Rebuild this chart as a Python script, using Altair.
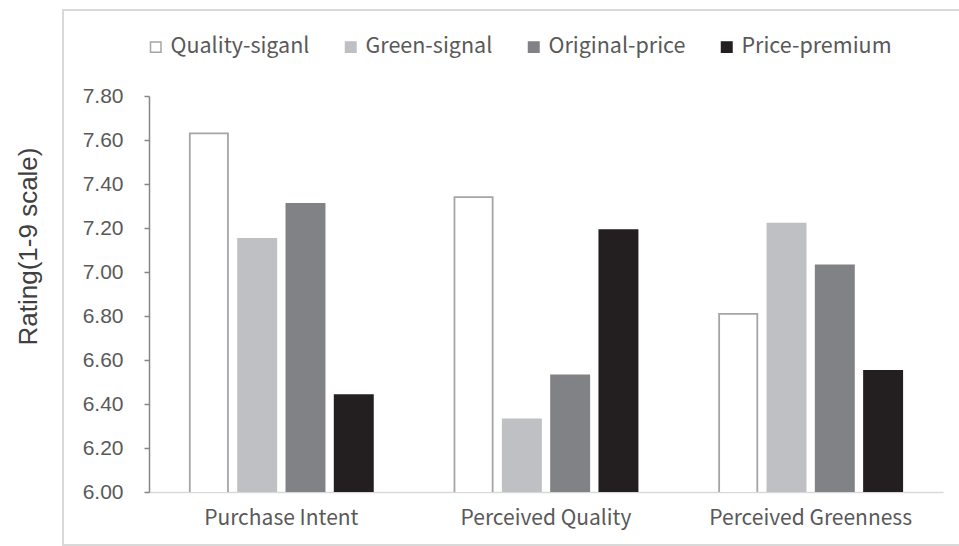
import altair as alt
import pandas as pd

categories = ["Purchase Intent", "Perceived Quality", "Perceived Greenness"]
series = ["Quality-siganl", "Green-signal", "Original-price", "Price-premium"]
quality_signal = [7.63, 7.34, 6.81]
green_signal = [7.15, 6.33, 7.22]
original_price = [7.31, 6.53, 7.03]
price_premium = [6.44, 7.19, 6.55]
y_ticks = [6.0, 6.2, 6.4, 6.6, 6.8, 7.0, 7.2, 7.4, 7.6, 7.8]

fills = ["#ffffff", "#bfc0c3", "#818285", "#231f20"]
strokes = ["#a5a5a7", "#bfc0c3", "#818285", "#231f20"]

rows = []
for s, vals in zip(series, [quality_signal, green_signal, original_price, price_premium]):
    for c, v in zip(categories, vals):
        rows.append({"category": c, "series": s, "value": v})
df = pd.DataFrame(rows)

label_font = "Noto Sans CJK SC"
num_font = "Liberation Sans"
text_col = "#595959"

legend_kw = dict(orient="none", legendX=-4, legendY=-60,
                 direction="horizontal", symbolType="square",
                 symbolSize=110, symbolStrokeWidth=1.5,
                 labelFont=label_font, labelFontSize=21.5,
                 labelColor=text_col, labelOffset=4,
                 columnPadding=30, labelLimit=0)

bars = alt.Chart(df).mark_bar(strokeWidth=1.8, clip=True).encode(
    x=alt.X("category:N", sort=categories, title=None,
            scale=alt.Scale(paddingInner=0, paddingOuter=0),
            axis=alt.Axis(labelAngle=0, ticks=False, domainColor="#d9d9d9",
                          domainWidth=1.5, labelFont=label_font, labelFontSize=21,
                          labelColor=text_col, labelPadding=15, labelLimit=0)),
    xOffset=alt.XOffset("series:N", sort=series,
                        scale=alt.Scale(paddingInner=0.21, paddingOuter=0.845)),
    y=alt.Y("value:Q", title="Rating(1-9 scale)",
            scale=alt.Scale(domain=[6.0, 7.8], nice=False, zero=False),
            axis=alt.Axis(values=y_ticks, format=".2f", grid=False,
                          domainColor="#868686", domainWidth=1.5,
                          tickColor="#868686", tickWidth=1.5, tickSize=5,
                          labelFont=num_font, labelFontSize=21, labelColor=text_col,
                          labelPadding=21, titleFont=num_font, titleFontSize=26,
                          titleFontWeight="normal", titleColor="#404040",
                          titleX=-108, titleY=150, titleAngle=270,
                          titleBaseline="bottom", titleAlign="center")),
    fill=alt.Fill("series:N", sort=series, title=None,
                  scale=alt.Scale(domain=series, range=fills),
                  legend=alt.Legend(**legend_kw)),
    stroke=alt.Stroke("series:N", sort=series, title=None,
                      scale=alt.Scale(domain=series, range=strokes),
                      legend=alt.Legend(**legend_kw)),
)

frame = alt.Chart(pd.DataFrame({"k": [0]})).mark_rect(
    fill=None, stroke="#d9d9d9", strokeWidth=2, clip=False
).encode(
    x=alt.value(63 - 149), x2=alt.value(962 - 149),
    y=alt.value(10 - 96), y2=alt.value(545 - 96)
)

chart = alt.layer(frame, bars).properties(
    width=794, height=396,
    autosize=alt.AutoSizeParams(type="none"),
    padding={"left": 149, "top": 96, "right": 16, "bottom": 54},
    background="white",
).configure_view(stroke=None)

chart.save("out.html", embed_options={"renderer": "svg", "actions": False})
